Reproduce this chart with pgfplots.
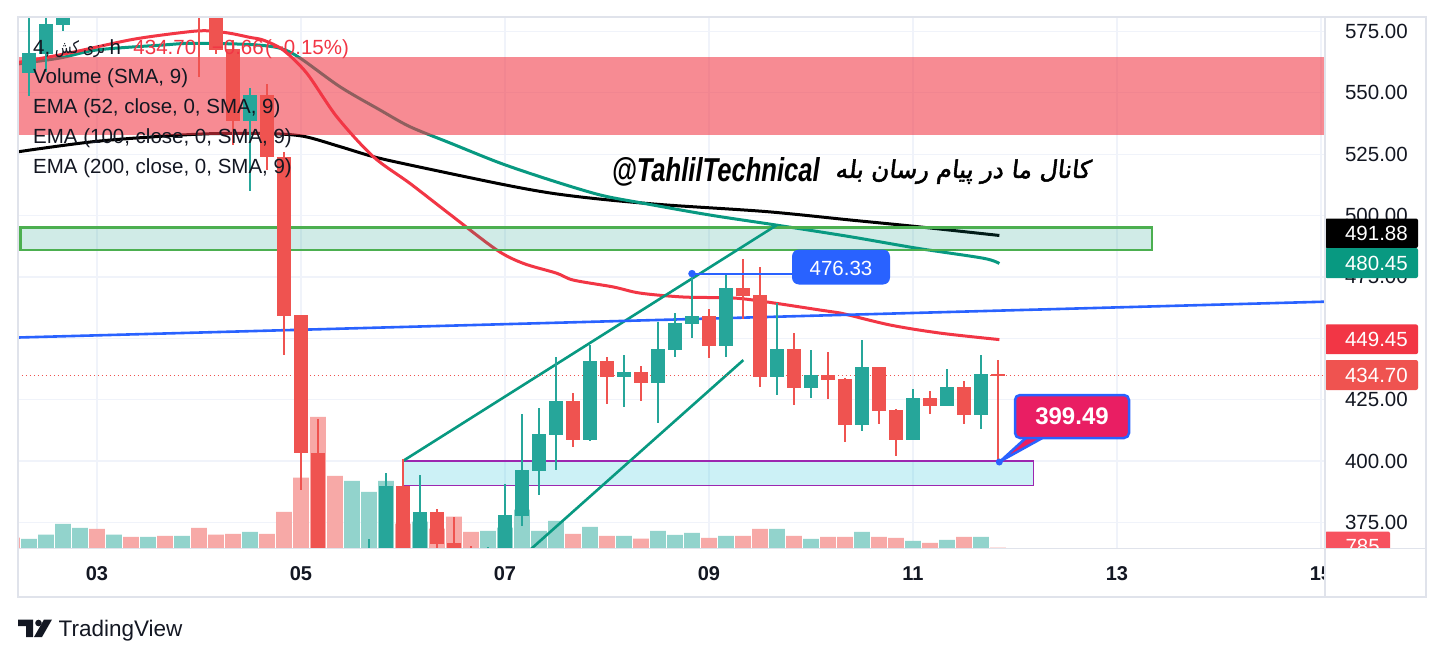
\documentclass[border=0pt]{standalone}
\usepackage{fontspec}
\setmainfont{Liberation Sans}
\newfontfamily\farsi[Script=Arabic]{DejaVu Sans}
\newfontfamily\farsibold[Script=Arabic,FakeBold=2,FakeSlant=0.12]{DejaVu Sans}
\TeXXeTstate=1
\usepackage{graphicx}
\usepackage{pgfplots}
\usepackage{pgfplotstable}
\pgfplotsset{compat=1.18}

\definecolor{upc}{RGB}{38,166,154}
\definecolor{dnc}{RGB}{239,83,80}
\definecolor{volup}{RGB}{146,211,204}
\definecolor{voldn}{RGB}{247,169,167}
\definecolor{emared}{RGB}{242,54,69}
\definecolor{emateal}{RGB}{8,153,129}
\definecolor{bluec}{RGB}{41,98,255}
\definecolor{gridc}{RGB}{240,243,250}
\definecolor{framec}{RGB}{224,227,235}
\definecolor{textc}{RGB}{19,23,34}
\definecolor{greenb}{RGB}{76,175,80}
\definecolor{cyanf}{RGB}{0,188,212}
\definecolor{purpb}{RGB}{156,39,176}
\definecolor{pinkl}{RGB}{233,30,99}
\definecolor{vollab}{RGB}{247,82,95}

\newcommand{\fs}[1]{\fontsize{#1bp}{#1bp}\selectfont}

% candles: x = 4h bar index (0 = day 05 00:00), open high low close
\pgfplotstableread{
x o h l c
-16 558.3 583.0 548.6 566.3
-15 566.0 583.0 558.7 577.9
-14 577.6 590.0 575.4 585.0
-3 538.7 551.9 510.1 549.1
4 350.0 368.0 345.0 355.0
5 360.0 395.2 355.0 389.7
7 360.0 394.2 355.0 379.1
11 355.0 364.8 350.0 360.0
12 360.0 390.5 355.0 377.9
13 377.6 419.1 373.4 396.2
14 396.0 421.5 386.0 410.9
15 410.5 442.5 396.2 424.4
17 408.5 447.2 408.2 440.7
19 434.3 443.2 422.1 436.2
21 431.9 456.8 415.3 445.6
22 445.3 460.4 442.5 456.2
23 456.0 476.33 449.9 459.1
25 446.9 476.5 442.5 470.3
28 434.3 464.5 426.8 445.6
30 429.8 445.2 425.7 434.9
33 414.7 449.2 412.4 438.3
36 408.5 429.3 408.5 425.6
38 422.3 437.4 422.3 430.1
40 418.7 443.2 413.0 435.4
}\upcandles

\pgfplotstableread{
x o h l c
-6 592.0 595.0 556.6 584.0
-5 586.0 590.0 566.0 567.5
-4 567.7 571.5 528.8 538.7
-2 549.1 553.6 518.6 523.7
-1 524.0 526.0 443.2 459.1
0 459.4 459.4 388.0 403.1
1 403.1 417.0 355.0 360.0
6 389.7 400.6 355.0 360.0
8 379.1 380.4 362.0 366.3
9 366.6 377.2 358.0 360.0
10 362.0 365.5 355.0 358.0
16 424.4 427.8 405.6 408.5
18 440.7 442.5 423.2 434.3
20 436.2 438.7 424.5 431.9
24 459.1 461.8 441.8 446.9
26 470.3 482.2 457.7 467.2
27 467.7 479.2 430.0 434.3
29 445.6 452.3 422.8 429.8
31 434.9 444.5 425.2 433.0
32 433.4 434.0 407.7 414.7
34 438.3 438.4 415.0 420.4
35 420.7 421.0 401.9 408.5
37 425.6 428.5 419.1 422.3
39 430.1 432.6 415.0 418.7
41 435.4 441.1 399.49 434.7
}\dncandles

\pgfplotstableread{
x v
-16 9.7
-15 14
-14 24.7
-13 20.7
-11 14
-9 11.7
-7 12.7
-3 16.7
3 67.7
4 56.7
5 67.7
7 27
11 17.7
12 21
13 39
14 17.7
15 27.7
17 21.7
19 12.7
21 17.7
22 13.7
23 15.7
25 12.7
28 19.7
30 9.7
33 16.7
36 7.7
38 8.7
40 11.7
}\volupt

\pgfplotstableread{
x v
-17 11
-12 19.7
-10 11.7
-8 12.7
-6 20.7
-5 14
-4 14.7
-2 14.7
-1 36.7
0 71
1 131.7
2 72.7
6 25
8 20
9 32
10 16.7
16 14.7
18 12.7
20 10
24 10.7
26 12.7
27 19.7
29 12.7
31 11.7
32 11.7
34 11.7
35 10.7
37 5.7
39 11.7
41 1
}\voldnt

\pgfplotstableread{
x y
-16.63 562.4
-13.8 566.0
-9.88 571.8
-6.72 574.8
-5.5 575.3
-4.2 574.3
-3 572.6
-2.22 571.5
-1.06 567.5
0.34 558.0
2.1 540.3
4.25 524.0
6.41 513.1
8.76 500.5
11.51 486.0
13.08 480.5
15.04 476.5
16.02 473.7
18.37 470.9
19.94 468.4
22.49 466.8
25.43 466.4
27.39 464.8
30.53 461.5
31.71 460.3
34.65 455.4
37.59 452.1
41.08 449.45
}\emaA

\pgfplotstableread{
x y
-16.63 561.8
-14.18 564.2
-12 567.5
-8.12 569.5
-6.35 570.2
-3 569.7
-1.24 568.2
-0.06 564.2
2.29 552.5
4.65 543.0
6.41 536.2
8.76 529.6
11.71 521.4
14.65 514.5
17.59 508.4
20.14 505.0
24.06 500.2
27.98 496.1
32.29 491.4
36.22 486.7
40.14 482.6
41.08 480.45
}\emaB

\pgfplotstableread{
x y
-16.63 526.0
-11.82 530.4
-5.94 533.2
-2 533.4
0.14 532.3
2.29 528.1
4.25 524.0
6.41 520.6
11.71 512.9
14.65 509.2
17.59 506.7
21.51 504.3
27.39 501.6
32.29 498.2
36.22 495.5
41.08 491.88
}\emaC

\pgfplotsset{chartax/.style={at={(18bp,-548.5bp)}, anchor=south west,
  scale only axis, width=1307bp, height=531.5bp, xmin=-16.647, xmax=60.235}}

\begin{document}
\begin{tikzpicture}
\path[use as bounding box] (0,0) rectangle (1444bp,-659bp);
\fill[white] (0,0) rectangle (1444bp,-659bp);

% grid
\begin{axis}[chartax, ymin=364.32, ymax=580.91,
  xtick={-12,0,12,24,36,48,60}, ytick={375,400,...,575},
  xticklabels={}, yticklabels={}, grid=major,
  major grid style={draw=gridc, line width=1.2bp},
  axis line style={draw=none}, major tick length=0pt]
\addplot[draw=none] coordinates {(0,400)};
\end{axis}

% volume
\begin{axis}[chartax, ymin=0, ymax=531.5, hide axis]
\addplot[ybar, bar width=15.7bp, bar shift=0pt, fill=volup, draw=none] table[x=x,y=v] {\volupt};
\addplot[ybar, bar width=15.7bp, bar shift=0pt, fill=voldn, draw=none] table[x=x,y=v] {\voldnt};
\end{axis}

% price
\begin{axis}[chartax, ymin=364.32, ymax=580.91, hide axis, clip=true]
\addplot[black, line width=3bp, smooth] table[x=x,y=y] {\emaC};
\addplot[emateal, line width=3bp, smooth] table[x=x,y=y] {\emaB};
\addplot[emared, line width=3bp, smooth] table[x=x,y=y] {\emaA};
% pink resistance zone
\addplot[fill=emared, fill opacity=0.575, draw=none] coordinates {(-16.7,533.0) (60.3,533.0) (60.3,564.7) (-16.7,564.7)} -- cycle;
% green zone
\addplot[fill=emateal, fill opacity=0.19, draw=greenb, line width=2.5bp] coordinates {(-16.5,486.0) (50.06,486.0) (50.06,495.2) (-16.5,495.2)} -- cycle;
% cyan support box
\addplot[fill=cyanf, fill opacity=0.2, draw=purpb, line width=1.3bp] coordinates {(6.0,390.1) (43.08,390.1) (43.08,400.0) (6.0,400.0)} -- cycle;
% channel lines
\addplot[emateal, line width=2.6bp] coordinates {(6.0,400.0) (27.98,496.1)};
\addplot[emateal, line width=2.6bp] coordinates {(13.3,362.7) (26.02,441.1)};
% blue trend line
\addplot[bluec, line width=2.6bp] coordinates {(-16.65,450.3) (60.24,464.9)};
% last price line
\addplot[dnc, line width=1.2bp, dash pattern=on 1.5bp off 2.5bp] coordinates {(-16.65,434.7) (60.24,434.7)};
% wicks
\addplot[draw=none, mark=none, forget plot, error bars/.cd, y dir=both, y explicit,
  error mark=none, error bar style={draw=upc, line width=1.3bp}]
  table[x=x, y expr={(\thisrow{h}+\thisrow{l})/2}, y error expr={(\thisrow{h}-\thisrow{l})/2}] {\upcandles};
\addplot[draw=none, mark=none, forget plot, error bars/.cd, y dir=both, y explicit,
  error mark=none, error bar style={draw=dnc, line width=1.3bp}]
  table[x=x, y expr={(\thisrow{h}+\thisrow{l})/2}, y error expr={(\thisrow{h}-\thisrow{l})/2}] {\dncandles};
% bodies
\addplot[draw=none, mark=none, forget plot, error bars/.cd, y dir=both, y explicit,
  error mark=none, error bar style={draw=upc, line width=13.3bp}]
  table[x=x, y expr={(\thisrow{o}+\thisrow{c})/2}, y error expr={max(abs(\thisrow{c}-\thisrow{o})/2,0.3)}] {\upcandles};
\addplot[draw=none, mark=none, forget plot, error bars/.cd, y dir=both, y explicit,
  error mark=none, error bar style={draw=dnc, line width=13.3bp}]
  table[x=x, y expr={(\thisrow{o}+\thisrow{c})/2}, y error expr={max(abs(\thisrow{c}-\thisrow{o})/2,0.3)}] {\dncandles};
% 476.33 level
\addplot[bluec, line width=1.8bp] coordinates {(23,476.33) (28.9,476.33)};
\addplot[only marks, mark=*, mark size=3.5bp, mark options={fill=bluec, draw=bluec}] coordinates {(23,476.33)};
\end{axis}

\begin{scope}[x=1bp, y=-1bp]
% 399.49 callout
\filldraw[fill=pinkl, draw=bluec, line width=2.5bp, line join=round] (1028,436) -- (1046,436) -- (1000,461.5) -- cycle;
\filldraw[fill=pinkl, draw=bluec, line width=2.5bp, rounded corners=5bp] (1015,395) rectangle (1129,438);
\node[text=white, inner sep=0] at (1072,416.5) {\fs{24}\bfseries 399.49};
\fill[bluec] (999.3,462) circle (3.5);
% 476.33 label
\fill[bluec, rounded corners=7bp] (792,249.5) rectangle (890,284.5);
\node[text=white, inner sep=0] at (841,268.5) {\fs{20.5}476.33};

% watermark
\node[anchor=base east, inner sep=0, text=black] at (820,181.7) {\resizebox{208bp}{24bp}{\bfseries\itshape @TahlilTechnical}};
\node[anchor=base west, inner sep=0, text=black] at (835,178) {\resizebox{255bp}{!}{\farsibold\beginR کانال ما در پیام رسان بله\endR}};

% legend
\node[anchor=base west, inner sep=0, text=textc] at (33,54) {\fs{20.5}4,};
\node[anchor=base west, inner sep=0, text=textc] at (55,54) {\resizebox{50bp}{13bp}{\farsi\fs{19}\beginR نزی کش\endR}};
\node[anchor=base west, inner sep=0, text=textc] at (109.5,54) {\fs{20.5}h};
\node[anchor=base west, inner sep=0, text=emared] at (133.3,54) {\fs{20.5}434.70};
\node[anchor=base west, inner sep=0, text=emared] at (211.7,54) {\fs{20.5}−0.66};
\node[anchor=base west, inner sep=0, text=emared] at (265,54) {\fs{20.5}(−0.15\%)};
\node[anchor=base west, inner sep=0, text=textc] at (33,83.5) {\fs{20.5}Volume (SMA, 9)};
\node[anchor=base west, inner sep=0, text=textc] at (33,113.5) {\fs{20.5}EMA (52, close, 0, SMA, 9)};
\node[anchor=base west, inner sep=0, text=textc] at (33,143.3) {\fs{20.5}EMA (100, close, 0, SMA, 9)};
\node[anchor=base west, inner sep=0, text=textc] at (33,173.2) {\fs{20.5}EMA (200, close, 0, SMA, 9)};

% date labels
\foreach \xx/\lab in {97/03,301/05,505/07,709/09,913/11,1117/13,1321/15}
  \node[anchor=base, inner sep=0, text=textc] at (\xx,580) {\fs{20}\bfseries \lab};
\fill[white] (1326,550) rectangle (1425,596);

% price labels
\foreach \yy/\lab in {31.5/575.00,92.85/550.00,154.2/525.00,215.55/500.00,276.9/475.00,338.25/450.00,399.6/425.00,460.95/400.00,522.3/375.00}
  \node[anchor=east, inner sep=0, text=textc] at (1408,\yy) {\fs{20.5}\lab};
\fill[black, rounded corners=2bp] (1325,218.5) rectangle (1418,248);
\node[anchor=east, inner sep=0, text=white] at (1408,233.25) {\fs{20.5}491.88};
\fill[emateal, rounded corners=2bp] (1325,248) rectangle (1418,278);
\node[anchor=east, inner sep=0, text=white] at (1408,263) {\fs{20.5}480.45};
\fill[emared, rounded corners=2bp] (1325,324.4) rectangle (1418,354.2);
\node[anchor=east, inner sep=0, text=white] at (1408,339.3) {\fs{20.5}449.45};
\fill[dnc, rounded corners=2bp] (1325,360) rectangle (1418,390);
\node[anchor=east, inner sep=0, text=white] at (1408,375) {\fs{20.5}434.70};
\begin{scope}
\clip (1325,17) rectangle (1426,548.5);
\fill[vollab, rounded corners=2bp] (1325,531.5) rectangle (1390,570);
\node[anchor=east, inner sep=0, text=white] at (1380,546) {\fs{20.5}785};
\end{scope}

% frame
\draw[framec, line width=1.6bp] (18,17) rectangle (1426,597);
\draw[framec, line width=1.6bp] (1325,17) -- (1325,597);
\draw[framec, line width=1.6bp] (18,548.5) -- (1426,548.5);

% TradingView logo
\fill[textc] (18,619.5) -- (33,619.5) -- (33,637) -- (26,637) -- (26,626) -- (18,626) -- cycle;
\fill[textc] (38.5,623) circle (3.3);
\fill[textc] (44,619.5) -- (52,619.5) -- (42,637) -- (34,637) -- cycle;
\node[anchor=base west, inner sep=0, text=textc] at (58.5,636.7) {\fs{22.5}TradingView};
\end{scope}
\end{tikzpicture}
\end{document}
